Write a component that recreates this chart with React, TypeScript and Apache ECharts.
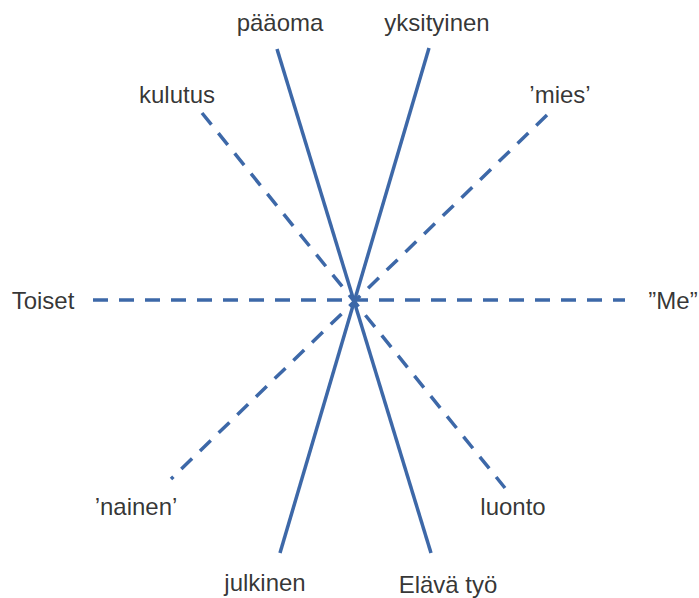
import React, { useEffect, useRef } from "react";
import * as echarts from "echarts";

// Axis endpoints, relative to the crossing point (x right, y up)
const solidNames: [string, string][] = [
  ["pääoma", "Elävä työ"],
  ["yksityinen", "julkinen"],
];
const solidStarts: [number, number][] = [[-77, 251], [75, 252]];
const solidEnds: [number, number][] = [[77, -253], [-74, -253]];

const dashedNames: [string, string][] = [
  ["kulutus", "luonto"],
  ["’mies’", "’nainen’"],
  ["Toiset", "”Me”"],
];
const dashedStarts: [number, number][] = [[-152, 187], [193, 185], [-261, 0]];
const dashedEnds: [number, number][] = [[151, -188], [-183, -179], [271, 0]];

// Label anchor points
const labelNames = [
  "pääoma", "yksityinen", "kulutus", "’mies’", "Toiset",
  "”Me”", "’nainen’", "luonto", "julkinen", "Elävä työ",
];
const labelX = [-74, 83, -177, 206, -311, 319, -218, 159, -89, 94];
const labelY = [278, 278, 206, 206, 0, 0, -206, -206, -282, -284];

const LINE_COLOR = "#3d68a8";

export default function App() {
  const ref = useRef<HTMLDivElement>(null);
  useEffect(() => {
    if (!ref.current) return;
    const chart = echarts.init(ref.current, undefined, { renderer: "svg" });
    const series: any[] = [];
    solidNames.forEach((n, i) => {
      series.push({
        type: "line",
        name: n.join(" – "),
        data: [solidStarts[i], solidEnds[i]],
        symbol: "none",
        lineStyle: { color: LINE_COLOR, width: 3.5, type: "solid", cap: "butt" },
        silent: true,
      });
    });
    dashedNames.forEach((n, i) => {
      series.push({
        type: "line",
        name: n.join(" – "),
        data: [dashedStarts[i], dashedEnds[i]],
        symbol: "none",
        lineStyle: { color: LINE_COLOR, width: 3.5, type: [15, 11], cap: "butt" },
        silent: true,
      });
    });
    series.push({
      type: "scatter",
      data: labelNames.map((name, i) => ({ name, value: [labelX[i], labelY[i]] })),
      symbolSize: 1,
      itemStyle: { color: "rgba(0,0,0,0)" },
      label: {
        show: true,
        position: "inside",
        formatter: (p: any) => p.name,
        fontFamily: "Liberation Sans, Arial, sans-serif",
        fontSize: 24,
        color: "#000000",
      },
      silent: true,
    });
    chart.setOption({
      animation: false,
      backgroundColor: "#ffffff",
      grid: { left: 0, right: 0, top: 0, bottom: 0 },
      xAxis: { type: "value", min: -354, max: 345, show: false },
      yAxis: { type: "value", min: -298, max: 300, show: false },
      series,
    });
    return () => chart.dispose();
  }, []);
  return (
    <div
      ref={ref}
      style={{ position: "absolute", left: 0, top: 0, width: 699, height: 598 }}
    />
  );
}
